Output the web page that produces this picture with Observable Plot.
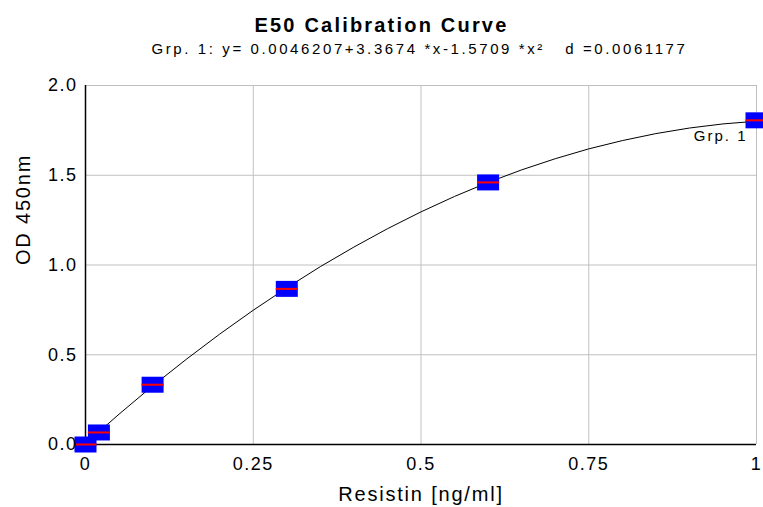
<!DOCTYPE html>
<html><head><meta charset="utf-8">
<script src="https://cdn.jsdelivr.net/npm/d3@7"></script>
<script src="https://cdn.jsdelivr.net/npm/@observablehq/plot@0.6"></script>
<style>
body{margin:0;background:#fff;font-family:"Liberation Sans",Arial,sans-serif;color:#000;}
#head{position:relative;width:763px;height:55px;}
#title{position:absolute;left:0;width:763px;top:13px;text-align:center;font-weight:bold;font-size:20px;line-height:24px;letter-spacing:2.2px;white-space:pre;}
#subtitle{position:absolute;left:0;width:763px;top:40px;text-align:center;font-size:15px;line-height:18px;letter-spacing:2.6px;white-space:pre;padding-left:76px;box-sizing:border-box;}
</style></head>
<body>
<div id="head"><div id="title"></div><div id="subtitle"></div></div>
<div id="chart"></div>
<script>
const titleText = "E50 Calibration Curve";
const subtitleText = "Grp. 1: y= 0.0046207+3.3674 *x-1.5709 *x²   d =0.0061177";
const xLabel = "Resistin [ng/ml]";
const yLabel = "OD 450nm";
const groupName = "Grp. 1";

// standards
const concX = [0, 0.02, 0.1, 0.3, 0.6, 1];
const odY = [0.0, 0.067, 0.333, 0.867, 1.46, 1.806];

// fitted curve
const curveX = [0, 0.05, 0.1, 0.15, 0.2, 0.25, 0.3, 0.35, 0.4, 0.45, 0.5, 0.55, 0.6, 0.65, 0.7, 0.75, 0.8, 0.85, 0.9, 0.95, 1];
const curveY = [0.005, 0.169, 0.326, 0.474, 0.615, 0.748, 0.873, 0.991, 1.100, 1.202, 1.296, 1.382, 1.460, 1.530, 1.592, 1.647, 1.693, 1.732, 1.763, 1.786, 1.801];

const xTicks = [0, 0.25, 0.5, 0.75, 1];
const xTickLabels = ["0", "0.25", "0.5", "0.75", "1"];
const yTicks = [0, 0.5, 1, 1.5, 2];
const yTickLabels = ["0.0", "0.5", "1.0", "1.5", "2.0"];

document.getElementById("title").textContent = titleText;
document.getElementById("subtitle").textContent = subtitleText;

const points = concX.map((x, i) => ({x, y: odY[i]}));
const curve = curveX.map((x, i) => ({x, y: curveY[i]}));
const last = points[points.length - 1];

const boxSymbol = {draw(ctx) { ctx.rect(-11, -8, 22, 16); }};
const barSymbol = {draw(ctx) { ctx.rect(-11, -1, 22, 2); }};

const chart = Plot.plot({
  width: 763,
  height: 452,
  marginLeft: 85,
  marginRight: 7,
  marginTop: 30,
  marginBottom: 63,
  style: {fontFamily: "Liberation Sans, Arial, sans-serif", background: "#fff", overflow: "visible"},
  x: {domain: [0, 1]},
  y: {domain: [0, 2]},
  marks: [
    Plot.gridX(xTicks, {stroke: "#c0c0c0", strokeOpacity: 1, strokeWidth: 1}),
    Plot.gridY(yTicks, {stroke: "#c0c0c0", strokeOpacity: 1, strokeWidth: 1}),
    Plot.ruleX([0], {stroke: "#000", strokeWidth: 1.5}),
    Plot.ruleY([0], {stroke: "#000", strokeWidth: 1.5}),
    Plot.line(curve, {x: "x", y: "y", stroke: "#000", strokeWidth: 1}),
    Plot.dot(points, {x: "x", y: "y", symbol: boxSymbol, fill: "#0000ff", stroke: null}),
    Plot.dot(points, {x: "x", y: "y", symbol: barSymbol, fill: "#ff0000", stroke: null}),
    Plot.text([groupName], {x: () => last.x, y: () => last.y, text: d => d, textAnchor: "end", dx: -9, dy: 16, fontSize: 15, fill: "#000"}),
    Plot.axisX(xTicks, {tickSize: 0, tickPadding: 13, tickFormat: (d, i) => xTickLabels[i], fontSize: 18, label: null}),
    Plot.axisY(yTicks, {tickSize: 0, tickPadding: 8, tickFormat: (d, i) => yTickLabels[i], fontSize: 18, label: null}),
    Plot.text([xLabel], {frameAnchor: "bottom", dy: 50, text: d => d, fontSize: 20, lineAnchor: "middle"}),
    Plot.text([yLabel], {frameAnchor: "left", dx: -62, rotate: -90, text: d => d, fontSize: 20, lineAnchor: "middle"})
  ]
});
// widen glyph spacing like the reference
chart.querySelectorAll('g[aria-label="x-axis tick label"], g[aria-label="y-axis tick label"]').forEach(g => g.style.letterSpacing = "1.5px");
const textGroups = chart.querySelectorAll('g[aria-label="text"]');
const spacings = ["2px", "1.8px", "1.8px"];
textGroups.forEach((g, i) => g.style.letterSpacing = spacings[i] || "0px");
document.getElementById("chart").appendChild(chart);
</script>
</body></html>
